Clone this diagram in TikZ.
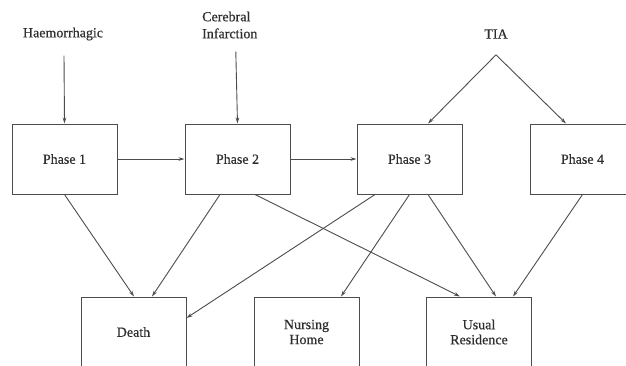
\documentclass[tikz,border=0pt]{standalone}
\usepackage{fontspec}
\setmainfont[FakeBold=0.6]{Liberation Serif}
\usetikzlibrary{arrows.meta,calc}
\definecolor{ln}{gray}{0.3}
\definecolor{tx}{gray}{0.18}
\begin{document}
\begin{tikzpicture}[x=1pt,y=-1pt,
  box/.style={draw=ln,line width=1pt,minimum width=105pt,minimum height=70pt,inner sep=0pt,align=center,font=\fontsize{14}{16}\selectfont,text=tx},
  lab/.style={inner sep=0pt,font=\fontsize{14}{17}\selectfont,text=tx},
  arr/.style={draw=ln,line width=0.9pt,-{Stealth[length=6pt,width=3.6pt]}}]
\useasboundingbox (0,0) rectangle (626,365);
\node[box] (p1) at (64.5,159) {Phase 1};
\node[box] (p2) at (237.5,159) {Phase 2};
\node[box] (p3) at (409.5,159) {Phase 3};
\node[box] (p4) at (582.5,159) {Phase 4};
\node[box] (d) at (133.5,332) {Death};
\node[box] (n) at (306.5,332) {Nursing\\[-1pt]Home};
\node[box] (u) at (479,332) {Usual\\[-1pt]Residence};
\node[lab] (h) at (63,34) {Haemorrhagic};
\node[lab,align=left,anchor=west] (c) at (202,25) {Cerebral\\Infarction};
\node[lab] (t) at (496,34) {TIA};
\draw[arr] ($(h.south)+(1,15)$) -- (p1.north);
\draw[arr] ($(c.south)+(6,13)$) -- (p2.north);
\draw[arr] ($(t.south)+(0,16)$) -- ($(p3.north)+(18.5,0)$);
\draw[arr] ($(t.south)+(0,16)$) -- ($(p4.north)+(-16.5,0)$);
\draw[arr] (p1.east) -- (p2.west);
\draw[arr] (p2.east) -- (p3.west);
\draw[arr] (p1.south) -- ($(d.north)+(0.5,0)$);
\draw[arr] ($(p2.south)+(-17.5,0)$) -- ($(d.north)+(18.5,0)$);
\draw[arr] ($(p2.south)+(17.5,0)$) -- ($(u.north)+(-19,0)$);
\draw[arr] ($(p3.south)+(-34.5,0)$) -- ($(d.east)+(0,-14)$);
\draw[arr] (p3.south) -- ($(n.north)+(34.5,0)$);
\draw[arr] ($(p3.south)+(18.5,0)$) -- ($(u.north)+(17,0)$);
\draw[arr] (p4.south) -- ($(u.north)+(34,0)$);
\end{tikzpicture}
\end{document}
